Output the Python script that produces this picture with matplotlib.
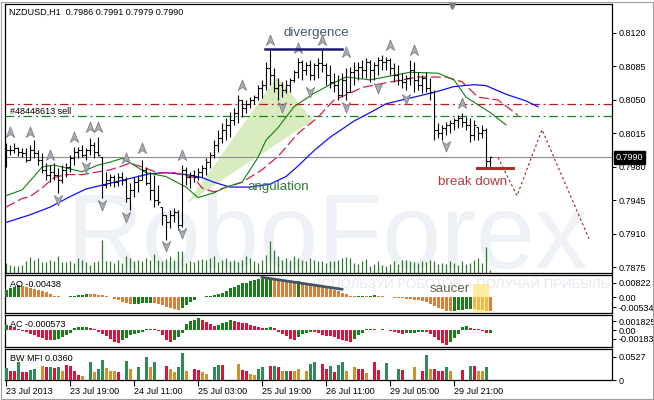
import numpy as np
import matplotlib.pyplot as plt
from matplotlib.path import Path
from matplotlib.patches import Polygon, Rectangle
from matplotlib.collections import LineCollection
import matplotlib.transforms as mtransforms

plt.rcParams['font.family'] = ['Liberation Sans', 'DejaVu Sans']

# NZDUSD H1 bars, 23 Jul 2013 .. 29 Jul 2013
high = [0.8005, 0.8003, 0.8005, 0.8001, 0.8000, 0.8000, 0.8003, 0.8008, 0.7998, 0.7995,
        0.7984, 0.7982, 0.7984, 0.7979, 0.7982, 0.7984, 0.7993, 0.8001, 0.8001, 0.8003,
        0.8000, 0.8010, 0.8006, 0.8011, 0.7990, 0.7975, 0.7973, 0.7972, 0.7974, 0.7975,
        0.7969, 0.7963, 0.7970, 0.7972, 0.7987, 0.7980, 0.7975, 0.7972, 0.7961, 0.7938,
        0.7930, 0.7935, 0.7937, 0.7935, 0.7982, 0.7980, 0.7975, 0.7977, 0.7979, 0.7982,
        0.7989, 0.7996, 0.8008, 0.8019, 0.8026, 0.8031, 0.8037, 0.8042, 0.8055, 0.8050,
        0.8050, 0.8053, 0.8055, 0.8066, 0.8071, 0.8090, 0.8102, 0.8083, 0.8073, 0.8069,
        0.8071, 0.8073, 0.8081, 0.8094, 0.8092, 0.8090, 0.8092, 0.8089, 0.8094, 0.8102,
        0.8089, 0.8087, 0.8078, 0.8076, 0.8078, 0.8083, 0.8084, 0.8090, 0.8090, 0.8092,
        0.8094, 0.8092, 0.8090, 0.8095, 0.8097, 0.8095, 0.8094, 0.8089, 0.8087, 0.8078,
        0.8076, 0.8092, 0.8090, 0.8079, 0.8076, 0.8079, 0.8073, 0.8060, 0.8026, 0.8024,
        0.8027, 0.8029, 0.8031, 0.8034, 0.8036, 0.8032, 0.8031, 0.8029, 0.8022, 0.8024,
        0.8021, 0.7991]
low = [0.7980, 0.7993, 0.7995, 0.7991, 0.7990, 0.7985, 0.7987, 0.7989, 0.7982, 0.7974,
       0.7966, 0.7964, 0.7966, 0.7953, 0.7963, 0.7969, 0.7975, 0.7982, 0.7989, 0.7990,
       0.7987, 0.7993, 0.7989, 0.7991, 0.7948, 0.7958, 0.7960, 0.7959, 0.7960, 0.7961,
       0.7943, 0.7935, 0.7949, 0.7954, 0.7966, 0.7961, 0.7945, 0.7938, 0.7940, 0.7919,
       0.7904, 0.7916, 0.7922, 0.7914, 0.7917, 0.7961, 0.7958, 0.7964, 0.7966, 0.7969,
       0.7972, 0.7979, 0.7989, 0.7996, 0.8005, 0.8008, 0.8011, 0.8024, 0.8026, 0.8032,
       0.8036, 0.8042, 0.8046, 0.8050, 0.8052, 0.8060, 0.8066, 0.8058, 0.8050, 0.8053,
       0.8057, 0.8058, 0.8069, 0.8073, 0.8071, 0.8076, 0.8071, 0.8071, 0.8073, 0.8079,
       0.8066, 0.8063, 0.8058, 0.8050, 0.8053, 0.8050, 0.8058, 0.8066, 0.8071, 0.8073,
       0.8073, 0.8069, 0.8071, 0.8076, 0.8081, 0.8081, 0.8076, 0.8069, 0.8066, 0.8063,
       0.8060, 0.8066, 0.8058, 0.8060, 0.8057, 0.8058, 0.8050, 0.8008, 0.8010, 0.8008,
       0.8013, 0.8016, 0.8019, 0.8021, 0.8022, 0.8019, 0.8006, 0.8008, 0.8008, 0.8010,
       0.7979, 0.7979]
close = [0.7998, 0.7998, 0.8000, 0.7996, 0.7995, 0.7987, 0.7998, 0.7995, 0.7987, 0.7977,
         0.7972, 0.7975, 0.7972, 0.7966, 0.7977, 0.7980, 0.7989, 0.7996, 0.7998, 0.7993,
         0.7998, 0.8003, 0.7996, 0.7993, 0.7961, 0.7966, 0.7969, 0.7964, 0.7969, 0.7966,
         0.7948, 0.7956, 0.7964, 0.7966, 0.7977, 0.7963, 0.7956, 0.7945, 0.7943, 0.7930,
         0.7922, 0.7930, 0.7933, 0.7919, 0.7977, 0.7969, 0.7972, 0.7969, 0.7975, 0.7979,
         0.7985, 0.7993, 0.8003, 0.8010, 0.8019, 0.8024, 0.8029, 0.8036, 0.8050, 0.8042,
         0.8046, 0.8050, 0.8053, 0.8063, 0.8066, 0.8083, 0.8076, 0.8063, 0.8066, 0.8060,
         0.8066, 0.8071, 0.8079, 0.8090, 0.8081, 0.8087, 0.8076, 0.8087, 0.8089, 0.8087,
         0.8076, 0.8069, 0.8066, 0.8055, 0.8071, 0.8058, 0.8079, 0.8081, 0.8084, 0.8081,
         0.8090, 0.8081, 0.8087, 0.8092, 0.8090, 0.8092, 0.8083, 0.8076, 0.8071, 0.8069,
         0.8073, 0.8081, 0.8071, 0.8066, 0.8073, 0.8063, 0.8058, 0.8019, 0.8016, 0.8021,
         0.8024, 0.8026, 0.8029, 0.8031, 0.8027, 0.8024, 0.8013, 0.8024, 0.8016, 0.8019,
         0.7986, 0.7990]
first_open = 0.7990

# tick volume (main window, bottom)
volume = [1000, 830, 670, 670, 830, 1170, 1570, 1330, 1500, 1100,
          1100, 1330, 1230, 1670, 1070, 1070, 1170, 1000, 1500, 1270,
          1070, 830, 1070, 1170, 3330, 1170, 1170, 1000, 1330, 1000,
          1730, 1500, 1170, 1330, 1170, 1500, 1330, 1900, 1330, 1170,
          1430, 1670, 1330, 2170, 2170, 1000, 1170, 1100, 1330, 1430,
          1330, 1500, 1670, 1070, 1330, 1500, 1170, 1330, 1100, 1330,
          1670, 1500, 1170, 1000, 1330, 1830, 3170, 2330, 1670, 1330,
          1500, 1330, 1670, 1500, 1330, 1170, 1500, 1330, 1230, 1170,
          1000, 1170, 1170, 1330, 1500, 1570, 1500, 1000, 900, 1170,
          1400, 730, 930, 1170, 830, 730, 930, 1170, 930, 1270,
          1330, 1230, 1130, 1000, 1170, 1070, 1330, 1170, 900, 1000,
          900, 1170, 1000, 830, 1170, 930, 1000, 1270, 1500, 1000,
          2600, 330]

# Alligator lines (bar index, price), extended to the right by their shift
jaw_x = [0, 6, 11, 16, 20, 24, 28, 32, 36, 40, 45, 49, 52, 56, 61, 66, 70, 73, 77, 81,
         87, 92, 95, 101, 107, 112, 117, 120, 125, 130, 133]
jaw_p = [0.7922, 0.7930, 0.7938, 0.7949, 0.7957, 0.7961, 0.7965, 0.7969, 0.7973, 0.7974,
         0.7972, 0.7969, 0.7964, 0.7959, 0.7959, 0.7962, 0.7970, 0.7981, 0.7997, 0.8011,
         0.8028, 0.8039, 0.8046, 0.8052, 0.8058, 0.8064, 0.8066, 0.8065, 0.8056, 0.8049,
         0.8043]
teeth_x = [0, 4, 6, 9, 12, 15, 19, 26, 29, 31, 34, 38, 42, 47, 49, 52, 55, 59, 64, 68,
           73, 78, 82, 87, 89, 95, 103, 110, 114, 118, 123, 128]
teeth_p = [0.7938, 0.7947, 0.7949, 0.7958, 0.7969, 0.7972, 0.7972, 0.7977, 0.7981, 0.7984,
           0.7980, 0.7974, 0.7974, 0.7969, 0.7958, 0.7954, 0.7959, 0.7964, 0.7977, 0.7991,
           0.8015, 0.8032, 0.8050, 0.8059, 0.8063, 0.8068, 0.8074, 0.8074, 0.8069, 0.8053,
           0.8050, 0.8034]
lips_x = [0, 4, 7, 9, 12, 15, 19, 23, 26, 29, 32, 35, 40, 45, 48, 52, 55, 59, 63, 65,
          68, 72, 77, 81, 85, 91, 101, 108, 112, 115, 118, 121, 125]
lips_p = [0.7950, 0.7956, 0.7970, 0.7980, 0.7982, 0.7979, 0.7975, 0.7982, 0.7985, 0.7989,
          0.7982, 0.7974, 0.7970, 0.7959, 0.7948, 0.7953, 0.7959, 0.7964, 0.7990, 0.8008,
          0.8021, 0.8043, 0.8057, 0.8066, 0.8074, 0.8071, 0.8079, 0.8078, 0.8071, 0.8053,
          0.8045, 0.8037, 0.8024]

# Bill Williams fractals (bar index, price)
up_frac_x = [1, 6, 11, 17, 21, 23, 30, 34, 44, 59, 66, 73, 79, 85, 96, 102, 114]
up_frac_p = [0.8017, 0.8017, 0.7993, 0.8011, 0.8022, 0.8022, 0.7989, 0.8000, 0.7993, 0.8066,
             0.8113, 0.8104, 0.8113, 0.8100, 0.8107, 0.8102, 0.8047]
dn_frac_x = [13, 20, 24, 30, 40, 44, 69, 76, 85, 93, 100, 110]
dn_frac_p = [0.7945, 0.7980, 0.7940, 0.7928, 0.7897, 0.7911, 0.8043, 0.8058, 0.8043, 0.8062,
             0.8051, 0.8002]

# Awesome Oscillator, Accelerator, BW MFI
ao = np.array([4.4, 5.2, 6.1, 6.9, 6.6, 6.1, 5.5, 5.0, 4.4, 3.6,
               2.8, 1.9, 1.1, 0.55, 0.28, 0.17, 0.55, 1.0, 1.4, 1.65,
               1.87, 1.82, 1.76, 1.65, 1.4, 0.94, 0.39, -0.94, -1.65, -2.5,
               -3.3, -3.7, -3.5, -3.4, -3.3, -3.1, -2.9, -3.3, -3.85, -4.4,
               -5.2, -6.05, -6.6, -7.0, -6.05, -4.4, -2.75, -1.4, 0.17, 0.39,
               0.55, 0.94, 1.5, 1.8, 2.75, 3.7, 5.1, 6.05, 7.0, 7.9,
               8.25, 9.2, 9.7, 10.1, 10.45, 10.6, 10.8, 10.45, 10.2, 9.9,
               9.6, 9.35, 8.8, 8.95, 8.5, 8.0, 7.4, 6.9, 6.3, 5.9,
               5.5, 4.95, 4.4, 3.6, 2.75, 1.9, 1.1, 0.55, 0.8, 1.1,
               0.8, 1.1, 1.25, 0.8, 0.55, 0.28, 0.17, -0.17, -0.28, -0.55,
               -0.8, -1.1, -1.4, -1.65, -2.2, -2.75, -3.6, -4.7, -5.8, -6.6,
               -7.4, -7.7, -7.4, -7.15, -6.9, -6.6, -6.3, -6.6, -6.9, -7.15,
               -7.4, -7.7]) / 1000
ac = np.array([10.5, 8.4, 5.3, 2.1, -1.1, -4.2, -7.4, -10.5, -13.7, -16.8,
               -20, -22, -21, -17.9, -13.7, -9.5, -5.3, 3.2, 5.3, 6.3,
               6.9, 4.2, 2.1, -3.2, -7.4, -12.6, -18.9, -25.2, -26.3, -21,
               -15.8, -10.5, -7.4, -5.3, -3.2, 1.5, 2.1, 1.1, -2.1, -10.5,
               -21, -24.2, -21, -13.7, -6.9, 12.6, 18.9, 21, 24.6, 22,
               16.8, 12.6, 8.4, 10.5, 13.7, 17.4, 21, 19.5, 17.4, 15.3,
               14.1, 10.5, 8.4, 5.7, 3.6, 4.2, 5.3, 3.2, -3.2, -7.4,
               -12.6, -17.9, -21, -14.7, -8.4, -5.3, -3.2, -3.6, -6.9, -10.5,
               -12.6, -13.2, -13.7, -18.9, -21, -23.1, -24.6, -17.9, -10.5, -6.9,
               1.5, 2.1, 1.1, 0.6, 1.1, 0.6, -2.1, -4.2, -6.3, -7.4,
               -6.3, -5.7, -5.3, -4.8, -4.2, -4.8, -8.4, -14.7, -21, -27.3,
               -31.5, -25.2, -16.8, -8.4, 5.7, 8.4, 4.2, 2.1, 1.1, -2.1,
               -6.9, -5.7]) / 10000
mfi = np.array([27.1, 20.3, 20.3, 40.0, 18.1, 18.8, 22.6, 24.9, 42.3, 31.6,
                28.7, 28.7, 27.1, 30.1, 21.0, 33.9, 31.6, 21.0, 12.0, 8.4,
                15.8, 40.7, 17.4, 24.9, 45.2, 27.1, 19.7, 20.3, 18.8, 31.0,
                43.6, 24.9, 31.6, 28.7, 28.7, 52.7, 30.1, 40.0, 42.3, 43.6,
                32.3, 24.9, 17.4, 28.7, 60.3, 21.0, 27.1, 24.9, 22.6, 17.4,
                13.6, 21.0, 28.7, 34.6, 34.6, 32.3, 40.0, 45.2, 36.2, 23.3,
                21.0, 13.6, 12.0, 24.9, 28.7, 36.2, 31.0, 32.3, 28.7, 21.0,
                19.7, 21.0, 21.0, 24.9, 28.7, 19.7, 36.2, 40.0, 47.5, 36.2,
                24.9, 32.3, 17.4, 34.6, 41.4, 21.0, 43.6, 28.7, 24.9, 24.9,
                15.8, 40.0, 40.0, 22.6, 22.6, 37.7, 21.0, 24.9, 24.9, 22.6,
                32.3, 42.9, 30.1, 28.7, 21.0, 57.2, 24.9, 24.9, 19.7, 19.7,
                28.7, 21.0, 21.0, 28.7, 22.6, 28.7, 31.0, 31.0, 21.0, 21.0,
                28.7, 36.0]) / 1000
# g = green, r = squat, y = fade, b = fake
mfi_kind = ("grrgrrggby" "rgrgyrrrry" "bgyggyyyrb" "gybgbgygbb" "ryyggybrry"
            "ybggrbbbyr" "ryyggbrgry" "gryybyggbr" "rgrggybyrr" "ybrrbgbbgr"
            "bbybrgyrrr" "gybbrbgryy" "gb")

# order levels, drawings
sell_red = 0.8046
sell_green = 0.8033
last_price = 0.7990
div_x, div_p = [64.75, 84], 0.8103
break_x, break_p = [117.75, 126.75], 0.7979
fc_x = [123, 127.75, 134, 145.75]
fc_p = [0.7990, 0.7950, 0.8019, 0.7905]
wedge_x = [45.25, 67.75, 76.75]
wedge_p = [0.7942, 0.8074, 0.8029]
ao_div_x = [64, 84]
ao_div_v = [0.0112, 0.00457]
saucer_x = [116.75, 120.75]

time_idx = [0, 16, 32, 48, 64, 80, 96, 112]
time_lbl = ['23 Jul 2013', '23 Jul 19:00', '24 Jul 11:00', '25 Jul 03:00',
            '25 Jul 19:00', '26 Jul 11:00', '29 Jul 05:00', '29 Jul 21:00']

n = len(close)
x = np.arange(n)
opn = np.array([first_open] + close[:-1])
opn = np.clip(opn, low, high)

W, H = 654, 400
fig = plt.figure(figsize=(6.54, 4.0), dpi=100)


def box(l, t, r, b):
    return [l / W, 1 - b / H, (r - l) / W, (b - t) / H]


ax = fig.add_axes(box(5, 4, 612, 273))
ax_ao = fig.add_axes(box(5, 274.5, 612, 313))
ax_ac = fig.add_axes(box(5, 315, 612, 347))
ax_mfi = fig.add_axes(box(5, 349, 612, 380))

fs = 6.5
for a in [ax, ax_ao, ax_ac, ax_mfi]:
    a.set_xlim(-0.25, 151.5)
    a.yaxis.tick_right()
    a.tick_params(axis='y', direction='out', length=3, width=0.7, pad=2, labelsize=fs)
    a.tick_params(axis='x', bottom=False, labelbottom=False)
    for s in a.spines.values():
        s.set_linewidth(0.9)
        s.set_color('black')

# ---- main window
ax.set_ylim(0.78692, 0.81503)
pticks = [0.8120, 0.8085, 0.8050, 0.8015, 0.7980, 0.7945, 0.7910, 0.7875]
ax.set_yticks(pticks)
ax.set_yticklabels(['%.4f' % p for p in pticks])

ax.text(0.53, 0.0186, 'RoboForex', transform=ax.transAxes, fontsize=76,
        color='#eef1f5', ha='center', va='baseline', zorder=0)

ax.add_patch(Polygon(list(zip(wedge_x, wedge_p)), closed=True, facecolor='#d9ecbf',
                     edgecolor='none', zorder=1))

ax.vlines(x, 0, np.array(volume) / 26900, transform=ax.get_xaxis_transform(),
          color='#2d7a2d', lw=0.9, zorder=2)

ax.axhline(sell_red, color='#c01818', lw=0.9, ls=(0, (7, 3, 1.5, 3)), zorder=2)
ax.axhline(sell_green, color='#118811', lw=0.9, ls=(0, (7, 3, 1.5, 3)), zorder=2)
ax.axhline(last_price, color='#8c8c8c', lw=0.8, zorder=2)

ax.plot(jaw_x, jaw_p, color='#1010ff', lw=0.9, zorder=3)
ax.plot(teeth_x, teeth_p, color='#d0204a', lw=0.9, ls=(0, (8, 3)), zorder=3)
ax.plot(lips_x, lips_p, color='#108010', lw=0.8, zorder=3)

segs = []
for i in range(n):
    segs.append([(x[i], low[i]), (x[i], high[i])])
    segs.append([(x[i] - 0.4, opn[i]), (x[i], opn[i])])
    segs.append([(x[i], close[i]), (x[i] + 0.4, close[i])])
ax.add_collection(LineCollection(segs, colors='black', linewidths=0.8, zorder=4))

arrow_up = Path([(0, 1), (0.75, -0.9), (0, -0.35), (-0.75, -0.9), (0, 1)],
                [Path.MOVETO, Path.LINETO, Path.LINETO, Path.LINETO, Path.CLOSEPOLY])
arrow_dn = Path([(0, -1), (0.75, 0.9), (0, 0.35), (-0.75, 0.9), (0, -1)],
                [Path.MOVETO, Path.LINETO, Path.LINETO, Path.LINETO, Path.CLOSEPOLY])
ax.plot(up_frac_x, up_frac_p, ls='none', marker=arrow_up, ms=8,
        mfc='#a7abb2', mec='#6f747c', mew=0.5, zorder=5)
ax.plot(dn_frac_x, dn_frac_p, ls='none', marker=arrow_dn, ms=8,
        mfc='#a7abb2', mec='#6f747c', mew=0.5, zorder=5)

ax.plot(div_x, [div_p, div_p], color='#1c1c70', lw=1.8, zorder=5)
ax.plot(break_x, [break_p, break_p], color='#a8302a', lw=2.2, zorder=5)
ax.plot(fc_x, fc_p, color='#a03838', lw=0.9, ls=(0, (2, 2)), zorder=5)

ax.text(69.25, 0.8120, 'divergence', fontsize=9.6, color='#3f5b66', va='center', zorder=6)
ax.text(60.25, 0.7959, 'angulation', fontsize=9.6, color='#2e7d32', va='center', zorder=6)
ax.text(108, 0.7964, 'break down', fontsize=9.6, color='#b03c3c', va='center', zorder=6)
ax.text(1, 0.8038, '#48448613 sell', fontsize=fs, color='black', va='center', zorder=6)
ax.text(0.0066, 0.968, 'NZDUSD,H1  0.7986 0.7991 0.7979 0.7990', transform=ax.transAxes,
        fontsize=fs, color='black', va='center', zorder=6)

tr = mtransforms.blended_transform_factory(ax.transAxes, ax.transData)
ax.text(1.006, last_price, '%.4f' % last_price, transform=tr, fontsize=fs, color='white',
        va='center', ha='left', zorder=7,
        bbox=dict(facecolor='black', edgecolor='black', pad=1.2))
ax.plot([111.5], [0.992], transform=ax.get_xaxis_transform(), marker='v', ms=5,
        color='#7a7a7a', clip_on=False, zorder=7)

# ---- AO
ao_col = ['#1b7d1b' if (i == 0 or ao[i] > ao[i - 1]) else '#d9813a' for i in range(n)]
ax_ao.set_ylim(-0.00864, 0.0128)
ax_ao.bar(x, ao, width=0.75, color=ao_col, zorder=3)
ax_ao.set_yticks([0.00822, 0, -0.00534])
ax_ao.set_yticklabels(['0.00822', '0.00', '-0.00534'])
ax_ao.text(0.506, 0.649, 'ИСПОЛЬЗУЙ РОБОТОВ – ПОЛУЧАЙ ПРИБЫЛЬ', transform=ax_ao.transAxes,
           fontsize=9.5, color='#e4e8ee', va='baseline', zorder=1)
ax_ao.plot(ao_div_x, ao_div_v, color='#455565', lw=2.0, zorder=4)
ax_ao.add_patch(Rectangle((saucer_x[0], -0.0086), saucer_x[1] - saucer_x[0], 0.0159,
                          facecolor='#ffe066', alpha=0.6, edgecolor='none', zorder=5))
ax_ao.text(106, 0.00457, 'saucer', fontsize=9.6, color='#5a6450', va='center', zorder=6)
ax_ao.text(0.008, 0.75, 'AO -0.00438', transform=ax_ao.transAxes, fontsize=fs, va='center')

# ---- AC
ac_col = ['#1b7d1b' if (i == 0 or ac[i] > ac[i - 1]) else '#dc143c' for i in range(n)]
ax_ac.set_ylim(-0.00357, 0.00315)
ax_ac.bar(x, ac, width=0.75, color=ac_col, zorder=3)
ax_ac.set_yticks([0.001825, 0, -0.00183])
ax_ac.set_yticklabels(['0.001825', '0.00', '-0.00183'])
ax_ac.text(0.008, 0.69, 'AC -0.000573', transform=ax_ac.transAxes, fontsize=fs, va='center')

# ---- BW MFI
kind_col = {'g': '#2e8b57', 'r': '#dc143c', 'y': '#c9952a', 'b': '#000080'}
wide = np.array([k != 'b' for k in mfi_kind])
ax_mfi.set_ylim(0, 0.070)
ax_mfi.bar(x[wide], mfi[wide], width=0.75,
           color=[kind_col[k] for k in mfi_kind if k != 'b'], zorder=3)
ax_mfi.bar(x[~wide], mfi[~wide], width=0.22, color='#000080', zorder=3)
ax_mfi.set_yticks([0.0527, 0])
ax_mfi.set_yticklabels(['0.0527', '0'])
ax_mfi.text(0.008, 0.70, 'BW MFI 0.0360', transform=ax_mfi.transAxes, fontsize=fs, va='center')

ax_mfi.set_xticks(time_idx)
ax_mfi.set_xticklabels(time_lbl)
ax_mfi.tick_params(axis='x', bottom=True, labelbottom=True, direction='out', length=4,
                   width=0.8, pad=1, labelsize=fs)
for lbl in ax_mfi.get_xticklabels():
    lbl.set_horizontalalignment('left')

fig.patches.append(Rectangle((1 / W, 1 / H), 652 / W, 397 / H, transform=fig.transFigure,
                             fill=False, edgecolor='#a0a0a0', lw=0.8))

fig.savefig('out.png', dpi=100)
